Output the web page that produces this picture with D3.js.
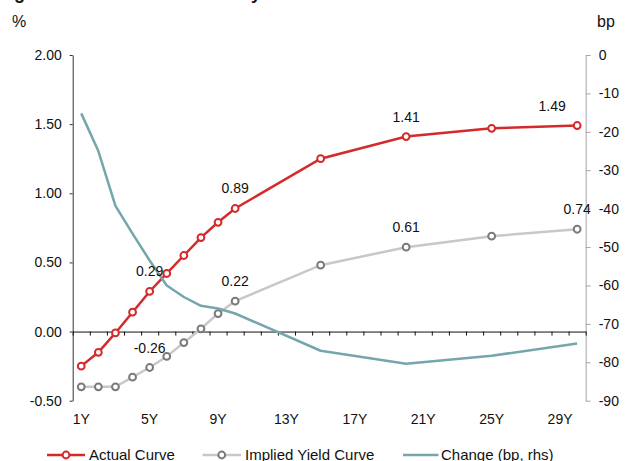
<!DOCTYPE html>
<html>
<head>
<meta charset="utf-8">
<script src="https://cdn.jsdelivr.net/npm/d3@7/dist/d3.min.js"></script>
<style>
  html, body { margin: 0; padding: 0; background: #fff; }
  svg { display: block; font-family: "Liberation Sans", Arial, Helvetica, sans-serif; }
</style>
</head>
<body>
<svg id="chart" width="627" height="461"></svg>
<script>
// Tenor categories on the x axis (1Y .. 30Y)
const tenors = ["1Y","2Y","3Y","4Y","5Y","6Y","7Y","8Y","9Y","10Y",
                "11Y","12Y","13Y","14Y","15Y","16Y","17Y","18Y","19Y","20Y",
                "21Y","22Y","23Y","24Y","25Y","26Y","27Y","28Y","29Y","30Y"];
const xTickLabels = ["1Y","5Y","9Y","13Y","17Y","21Y","25Y","29Y"];

// Tenors that carry observations
const pointTenors = ["1Y","2Y","3Y","4Y","5Y","6Y","7Y","8Y","9Y","10Y","15Y","20Y","25Y","30Y"];

// Yields, % (left axis)
const actualCurve  = [-0.25, -0.15, -0.01, 0.14, 0.29, 0.42, 0.55, 0.68, 0.79, 0.89, 1.25, 1.41, 1.47, 1.49];
const impliedCurve = [-0.40, -0.40, -0.40, -0.33, -0.26, -0.18, -0.08, 0.02, 0.13, 0.22, 0.48, 0.61, 0.69, 0.74];
// Change, bp (right axis)
const changeBp     = [-15.2, -25.0, -39.3, -46.5, -53.5, -60.0, -63.0, -65.3, -66.0, -67.3, -77.0, -80.4, -78.3, -75.1];

// Values annotated on the chart
const actualLabelTenors  = ["5Y","10Y","20Y","30Y"];
const impliedLabelTenors = ["5Y","10Y","20Y","30Y"];

// Axis ticks
const leftTicks = [-0.5, 0, 0.5, 1, 1.5, 2];
const leftTickLabels = ["-0.50","0.00","0.50","1.00","1.50","2.00"];
const rightTicks = [-90,-80,-70,-60,-50,-40,-30,-20,-10,0];
const rightTickLabels = ["-90","-80","-70","-60","-50","-40","-30","-20","-10","0"];

const seriesNames = ["Actual Curve", "Implied Yield Curve", "Change (bp, rhs)"];
const titleText = "Figure 1: Markets have already moved";

const colors = { actual: "#d42a2b", impliedLine: "#c8c8c8", impliedMark: "#7a7a7a", change: "#74a6ab" };

const svg = d3.select("#chart");
const plot = { left: 72.7, right: 585.7, top: 55, bottom: 400.7 };

const x = d3.scaleBand().domain(tenors).range([plot.left, plot.right]).padding(0);
const xc = t => x(t) + x.bandwidth() / 2;
const xb = d3.scaleLinear().domain([0, tenors.length]).range([plot.left, plot.right]);
const yL = d3.scaleLinear().domain([-0.5, 2]).range([plot.bottom, plot.top]);
const yR = d3.scaleLinear().domain([-90, 0]).range([plot.bottom, plot.top]);

const rows = pointTenors.map((t, i) => ({ t, a: actualCurve[i], m: impliedCurve[i], c: changeBp[i] }));

// Title (runs off the top edge)
svg.append("text").attr("x", -2).attr("y", -1)
  .attr("font-size", 18).attr("font-weight", "bold").attr("fill", "#111")
  .text(titleText);

// Axis unit labels
svg.append("text").attr("x", 12).attr("y", 27).attr("font-size", 16).attr("fill", "#111").text("%");
svg.append("text").attr("x", 597).attr("y", 27).attr("font-size", 16).attr("fill", "#111").text("bp");

// Left axis
const gL = svg.append("g").attr("transform", `translate(${plot.left},0)`)
  .call(d3.axisLeft(yL).tickValues(leftTicks).tickSize(3).tickSizeOuter(0).tickPadding(8)
    .tickFormat((d, i) => leftTickLabels[i]));
gL.select(".domain").attr("stroke", "#333");
gL.selectAll(".tick line").attr("stroke", "#333");
gL.selectAll(".tick text").attr("font-size", 14).attr("fill", "#111").attr("font-family", null);

// Right axis
const gR = svg.append("g").attr("transform", `translate(${plot.right},0)`)
  .call(d3.axisRight(yR).tickValues(rightTicks).tickSize(5).tickSizeOuter(0).tickPadding(8)
    .tickFormat((d, i) => rightTickLabels[i]));
gR.select(".domain").attr("stroke", "#a6a6a6");
gR.selectAll(".tick line").attr("stroke", "#a6a6a6");
gR.selectAll(".tick text").attr("font-size", 14).attr("fill", "#111").attr("font-family", null);

// Category axis line at zero, ticks between categories
const gX = svg.append("g").attr("transform", `translate(0,${yL(0)})`)
  .call(d3.axisBottom(xb).ticks(tenors.length).tickSize(4).tickSizeOuter(0).tickFormat(""));
gX.select(".domain").attr("stroke", "#111");
gX.selectAll(".tick line").attr("stroke", "#111");

// Category labels along the bottom
const gXL = svg.append("g").attr("transform", `translate(0,${plot.bottom})`)
  .call(d3.axisBottom(x).tickValues(xTickLabels).tickSize(0).tickPadding(13));
gXL.select(".domain").remove();
gXL.selectAll(".tick text").attr("font-size", 14).attr("fill", "#111").attr("font-family", null);

// Implied yield curve
svg.append("path").datum(rows)
  .attr("fill", "none").attr("stroke", colors.impliedLine).attr("stroke-width", 2.5)
  .attr("d", d3.line().x(d => xc(d.t)).y(d => yL(d.m)));
svg.append("g").selectAll("circle").data(rows).join("circle")
  .attr("cx", d => xc(d.t)).attr("cy", d => yL(d.m)).attr("r", 3.4)
  .attr("fill", "#fff").attr("stroke", colors.impliedMark).attr("stroke-width", 2);

// Actual curve
svg.append("path").datum(rows)
  .attr("fill", "none").attr("stroke", colors.actual).attr("stroke-width", 2.5)
  .attr("d", d3.line().x(d => xc(d.t)).y(d => yL(d.a)));
svg.append("g").selectAll("circle").data(rows).join("circle")
  .attr("cx", d => xc(d.t)).attr("cy", d => yL(d.a)).attr("r", 3.4)
  .attr("fill", "#fff").attr("stroke", colors.actual).attr("stroke-width", 2);

// Change in bp on the right axis
svg.append("path").datum(rows)
  .attr("fill", "none").attr("stroke", colors.change).attr("stroke-width", 2.5)
  .attr("stroke-linejoin", "round")
  .attr("d", d3.line().x(d => xc(d.t)).y(d => yR(d.c)));

// Value labels
const fmt = d3.format(".2f");
const labelShift = { "30Y": -25 };
svg.append("g").selectAll("text").data(rows.filter(d => actualLabelTenors.includes(d.t))).join("text")
  .attr("x", d => xc(d.t) + (labelShift[d.t] || 0)).attr("y", d => yL(d.a) - 15)
  .attr("text-anchor", "middle").attr("font-size", 14).attr("fill", "#111")
  .text(d => fmt(d.a).replace("−", "-"));
svg.append("g").selectAll("text").data(rows.filter(d => impliedLabelTenors.includes(d.t))).join("text")
  .attr("x", d => xc(d.t)).attr("y", d => yL(d.m) - 15)
  .attr("text-anchor", "middle").attr("font-size", 14).attr("fill", "#111")
  .text(d => fmt(d.m).replace("−", "-"));

// Legend
const legendY = 455;
const legend = svg.append("g");
const items = [
  { name: seriesNames[0], x0: 47, x1: 85, stroke: colors.actual, mark: colors.actual, tx: 89 },
  { name: seriesNames[1], x0: 202.5, x1: 241, stroke: colors.impliedLine, mark: colors.impliedMark, tx: 245 },
  { name: seriesNames[2], x0: 403, x1: 438.5, stroke: colors.change, mark: null, tx: 441 }
];
items.forEach(it => {
  legend.append("line").attr("x1", it.x0).attr("x2", it.x1).attr("y1", legendY).attr("y2", legendY)
    .attr("stroke", it.stroke).attr("stroke-width", 2.5);
  if (it.mark) {
    legend.append("circle").attr("cx", (it.x0 + it.x1) / 2).attr("cy", legendY).attr("r", 3.4)
      .attr("fill", "#fff").attr("stroke", it.mark).attr("stroke-width", 2);
  }
  legend.append("text").attr("x", it.tx).attr("y", legendY + 4.5)
    .attr("font-size", 15).attr("fill", "#111").text(it.name);
});
</script>
</body>
</html>
